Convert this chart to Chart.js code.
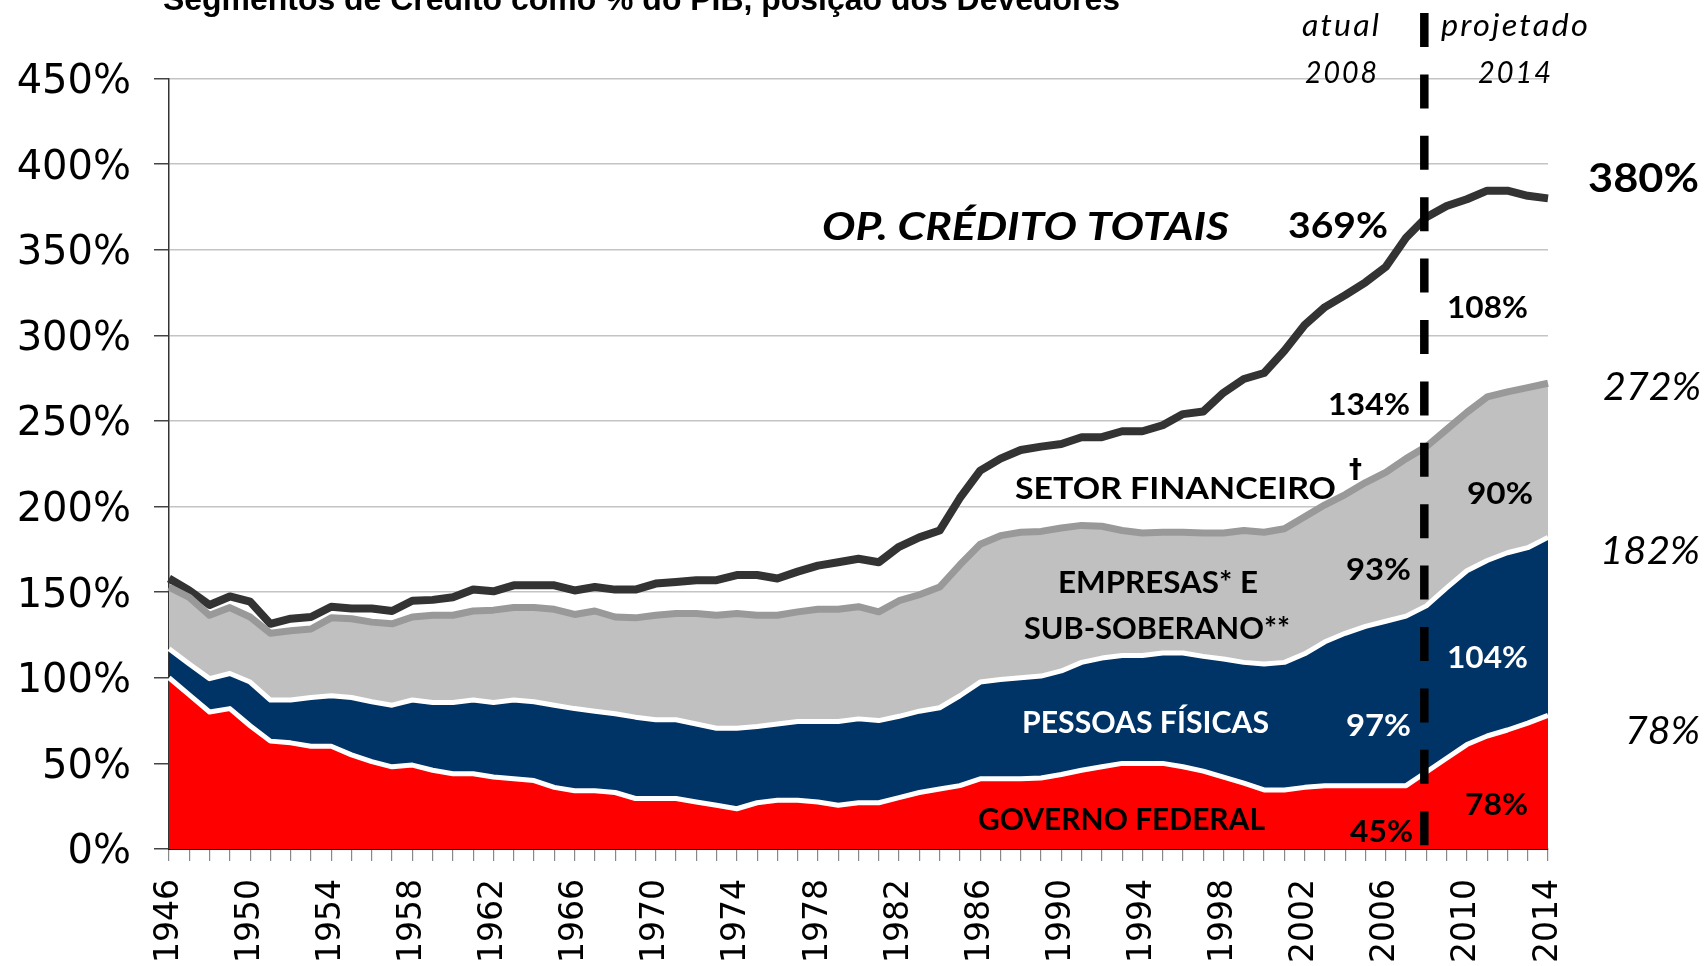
<!DOCTYPE html>
<html>
<head>
<meta charset="utf-8">
<script src="https://cdn.jsdelivr.net/npm/chart.js@4.4.0/dist/chart.umd.min.js"></script>
<style>
  html, body { margin:0; padding:0; background:#fff; }
  canvas { display:block; }
</style>
</head>
<body>
<canvas id="chart" width="1708" height="966"></canvas>
<script>
// Segmentos de crédito como % do PIB (1946-2014)
const anos = [
  1946,1947,1948,1949,1950,1951,1952,1953,1954,1955,
  1956,1957,1958,1959,1960,1961,1962,1963,1964,1965,
  1966,1967,1968,1969,1970,1971,1972,1973,1974,1975,
  1976,1977,1978,1979,1980,1981,1982,1983,1984,1985,
  1986,1987,1988,1989,1990,1991,1992,1993,1994,1995,
  1996,1997,1998,1999,2000,2001,2002,2003,2004,2005,
  2006,2007,2008,2009,2010,2011,2012,2013,2014
];
const governoFederal = [
  100,90,80,82,72,63,62,60,60,55,
  51,48,49,46,44,44,42,41,40,36,
  34,34,33,29.5,29.5,29.5,27.5,25.5,23.5,27,
  28.5,28.5,27.5,25.5,27,27,30,33,35,37,
  41,41,41,41.5,43.5,46,48,50,50,50,
  48,45.5,42,38.5,34.5,34.5,36,37,37,37,
  37,37,45,53,61,66,69.5,73.5,78
];
const pessoasFisicas = [
  17,18,19.5,20.5,25.5,24,25,28.5,29.5,33.5,
  35,36,38,39.5,41.5,43,43.5,46,46,48,
  48,46.5,46,47.5,46,46,45.5,45,47,44.5,
  44.5,46,47,49,49,48,47.5,47.5,47.5,52.5,
  56.5,58,59,59.5,60.5,63,63.5,63,63,64.5,
  66.5,67,69,70.5,73.5,74.5,78,84,89,93,
  96,99,97,99.5,101.5,102.5,103.5,102.5,104
];
const empresasSubSoberano = [
  36,39,37,38.5,38,39,40.5,40,45.5,46,
  46.5,47.5,48.5,51,51,52,54,54,55,56,
  55,58.5,56.5,58,61,62,64.5,66,67,65,
  63.5,64,65.5,65.5,65.5,63.5,67.5,68,70.5,76.5,
  80.5,84,85,84.5,83.5,80,77,73,71.5,70.5,
  70.5,72,73.5,77,77,78,80,80,81,84,
  87,92,93,92.5,92.5,95.5,94,93.5,90
];
const setorFinanceiro = [
  5,4,6,6.5,9,5.5,7,7,6.5,6,
  8,7.5,9.5,9,10.5,12.5,11,13,13,14,
  14,14,16,16.5,18.5,18.5,19.5,20.5,22.5,23.5,
  21.5,23.5,25.5,27.5,28,29,31.5,33.5,33,39,
  43,45,48,49.5,49,51.5,52,58,59.5,62.5,
  69,71,82,88.5,93,104,112,115.5,116.5,117,
  120,129,134,130.5,124.5,120.5,117.5,112,108
];
const yTicks = [0,50,100,150,200,250,300,350,400,450];
const anoCorte = 2008;

// draws text squeezed/stretched to a target width
function fitText(ctx, s, x1, x2, base, font, color, spacing){
  ctx.save();
  ctx.font = font;
  ctx.fillStyle = color;
  ctx.textAlign = 'left';
  ctx.textBaseline = 'alphabetic';
  if(spacing) ctx.letterSpacing = spacing + 'px';
  const w = ctx.measureText(s).width;
  ctx.translate(x1, base);
  ctx.scale((x2 - x1) / w, 1);
  ctx.fillText(s, 0, 0);
  ctx.restore();
}

const notes = {
  id: 'notes',
  afterDraw(chart){
    const ctx = chart.ctx;
    const xs = chart.scales.x;
    const area = chart.chartArea;

    // divisória atual | projetado
    const xd = xs.getPixelForValue(anos.indexOf(anoCorte)) - 2;
    ctx.save();
    ctx.strokeStyle = '#000';
    ctx.lineWidth = 8.5;
    ctx.setLineDash([34, 27.4]);
    ctx.beginPath();
    ctx.moveTo(xd, 13);
    ctx.lineTo(xd, area.bottom);
    ctx.stroke();
    ctx.restore();

    // título (cortado no topo)
    fitText(ctx, 'Segmentos de Crédito como % do PIB, posição dos Devedores', 163, 1120, 10, 'bold 32px "Liberation Sans"', '#000');

    const it = 'italic 30px Lato';
    fitText(ctx, 'atual', 1302, 1381, 36, it, '#000', 2);
    fitText(ctx, 'projetado', 1441, 1590, 36, it, '#000', 2);
    fitText(ctx, '2008', 1305, 1379, 83, it, '#000', 2);
    fitText(ctx, '2014', 1478, 1553, 83, it, '#000', 2);

    fitText(ctx, 'OP. CRÉDITO TOTAIS', 822, 1229, 240, 'italic bold 38px Lato', '#000');
    fitText(ctx, '369%', 1288, 1388, 238, 'bold 36px Lato', '#000');
    fitText(ctx, '380%', 1588, 1699, 192, 'bold 40px Lato', '#000');
    fitText(ctx, '108%', 1447, 1528, 318, 'bold 30px Lato', '#000');
    fitText(ctx, '134%', 1328, 1410, 415, 'bold 30px Lato', '#000');

    const cat = 'bold 31px Lato';
    fitText(ctx, 'SETOR FINANCEIRO', 1015, 1336, 499, cat, '#000');
    fitText(ctx, '†', 1349, 1362, 478, 'bold 26px "DejaVu Sans"', '#000');
    fitText(ctx, 'EMPRESAS* E', 1058, 1258, 593, cat, '#000');
    fitText(ctx, 'SUB-SOBERANO**', 1024, 1290, 639, cat, '#000');
    fitText(ctx, 'PESSOAS FÍSICAS', 1022, 1269, 733, cat, '#fff');
    fitText(ctx, 'GOVERNO FEDERAL', 978, 1265, 830, cat, '#000');

    const pct = 'bold 30px Lato';
    fitText(ctx, '90%', 1467, 1533, 504, pct, '#000');
    fitText(ctx, '93%', 1346, 1411, 580, pct, '#000');
    fitText(ctx, '104%', 1447, 1528, 668, pct, '#fff');
    fitText(ctx, '97%', 1346, 1411, 736, pct, '#fff');
    fitText(ctx, '78%', 1465, 1528, 815, pct, '#000');
    fitText(ctx, '45%', 1350, 1413, 842, pct, '#000');

    const side = 'italic 38px Lato';
    fitText(ctx, '272%', 1603, 1701, 400, side, '#000');
    fitText(ctx, '182%', 1600, 1700, 564, side, '#000');
    fitText(ctx, '78%', 1625, 1700, 744, side, '#000');
  }
};

const area = (label, data, fill, line, width, fillMode) => ({
  label, data,
  backgroundColor: fill,
  borderColor: line,
  borderWidth: width,
  fill: fillMode,
  pointRadius: 0,
  tension: 0,
  borderJoinStyle: 'round'
});

new Chart(document.getElementById('chart'), {
  type: 'line',
  data: {
    labels: anos,
    datasets: [
      area('Governo Federal', governoFederal, '#FF0000', '#FFFFFF', 5, 'origin'),
      area('Pessoas Físicas', pessoasFisicas, '#003366', '#FFFFFF', 5, '-1'),
      area('Empresas e Sub-soberano', empresasSubSoberano, '#C0C0C0', '#999999', 7, '-1'),
      area('Setor Financeiro', setorFinanceiro, 'rgba(0,0,0,0)', '#333333', 8, false)
    ]
  },
  options: {
    responsive: false,
    animation: false,
    layout: { padding: { left: 0, right: 160, top: 78.5, bottom: 0 } },
    plugins: { legend: { display:false }, tooltip: { enabled:false } },
    scales: {
      x: {
        offset: false,
        afterFit: s => { s.height = 117; },
        grid: { drawOnChartArea:false, drawTicks:true, tickLength:12, tickColor:'#888', lineWidth:1.2 },
        border: { color:'#000', width:2 },
        ticks: {
          autoSkip: false, minRotation: 90, maxRotation: 90, padding: 18,
          color: '#000', font: { family:'"DejaVu Sans"', size: 33 },
          callback: (v, i) => (i % 4 === 0 ? String(anos[i]) : '')
        }
      },
      y: {
        stacked: true,
        min: yTicks[0], max: yTicks[yTicks.length - 1],
        afterFit: s => { s.width = 169; },
        afterBuildTicks: s => { s.ticks = yTicks.map(v => ({ value: v })); },
        grid: { color:'#c4c4c4', lineWidth:1.5, tickLength:15, tickColor:'#444' },
        border: { color:'#333', width:1.5 },
        ticks: {
          padding: 23, labelOffset: 4, color:'#000',
          font: { family:'"DejaVu Sans"', size: 40 },
          callback: v => v + '%'
        }
      }
    }
  },
  plugins: [notes]
});
</script>
</body>
</html>
